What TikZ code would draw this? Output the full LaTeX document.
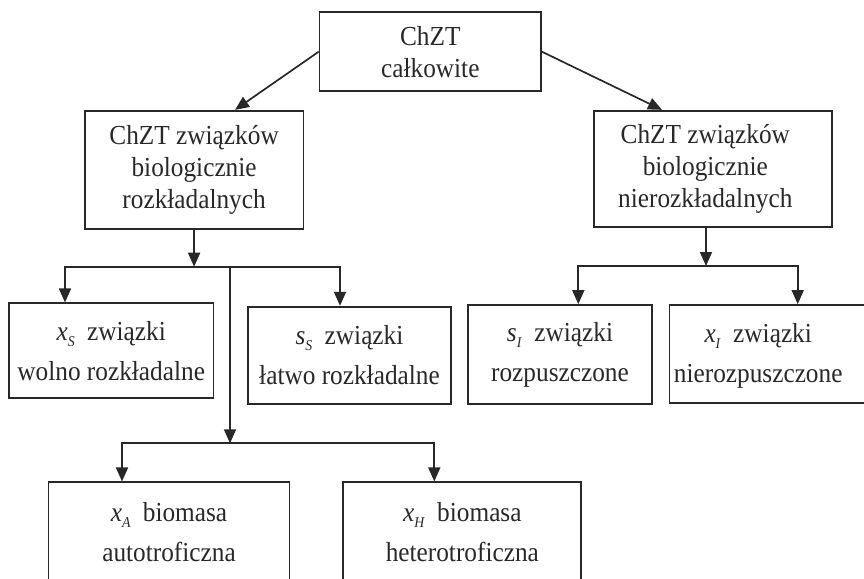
\documentclass[tikz,border=0pt]{standalone}
\usepackage{fontspec}
\setmainfont{Liberation Serif}[FakeStretch=0.92]
\usetikzlibrary{arrows.meta}
\definecolor{ink}{RGB}{40,40,40}
\newcommand\sym[2]{\textit{#1}\raisebox{-6pt}{\fontsize{15}{15}\selectfont\textit{#2}}}
\newcommand\gap{\hspace{0.45em}}
\begin{document}
\begin{tikzpicture}[x=1pt,y=-1pt,
  base/.style={draw=ink, line width=1.7pt, rectangle, inner sep=0pt, text=ink},
  box/.style={base, align=center, font=\fontsize{27.5}{32}\selectfont},
  tbox/.style={base, font=\fontsize{27.5}{32}\selectfont},
  lowbox/.style={base, align=center, font=\fontsize{27.5}{40}\selectfont},
  arr/.style={draw=ink, line width=1.7pt, line join=miter, -{Triangle[length=14pt,width=12pt]}},
  ln/.style={draw=ink, line width=1.7pt}]
\useasboundingbox (0,0) rectangle (864,578);
\clip (0,0) rectangle (864,578);
% boxes
\node[box, minimum width=221.5pt, minimum height=78.7pt] (top) at (430.3,51.7) {ChZT\\całkowite};
\node[box, minimum width=218.8pt, minimum height=118pt] (L) at (194.1,169.7) {ChZT związków\\biologicznie\\rozkładalnych};
\node[tbox, minimum width=237.7pt, minimum height=116.6pt] (R) at (712.8,169) {\begin{tabular}{@{}c@{}}ChZT związków\\biologicznie\\nierozkładalnych\end{tabular}\hspace*{15pt}};
\node[lowbox, minimum width=204.3pt, minimum height=95pt] (xS) at (111.2,350.8) {\sym{x}{S}\gap związki\\wolno rozkładalne};
\node[lowbox, minimum width=202.4pt, minimum height=97.3pt] (sS) at (349.5,355.3) {\sym{s}{S}\gap związki\\łatwo rozkładalne};
\node[lowbox, minimum width=183.4pt, minimum height=99pt] (sI) at (560,354.5) {\sym{s}{I}\gap związki\\rozpuszczone};
\node[tbox, font=\fontsize{27.5}{40}\selectfont, minimum width=220.7pt, minimum height=98pt] (xI) at (779.7,354) {\begin{tabular}{@{}c@{}}\sym{x}{I}\gap związki\\nierozpuszczone\end{tabular}\hspace*{43pt}};
\node[lowbox, minimum width=241pt, minimum height=100pt] (xA) at (169,532.3) {\sym{x}{A}\gap biomasa\\autotroficzna};
\node[lowbox, minimum width=238pt, minimum height=100pt] (xH) at (462.3,532.3) {\sym{x}{H}\gap biomasa\\heterotroficzna};
% top arrows
\coordinate (tl) at (235,0);
\coordinate (tr) at (662,0);
\draw[arr] (top.west) -- (tl |- L.north);
\draw[arr] (top.east) -- (tr |- R.north);
% left tree
\coordinate (hL) at (0,266.7);
\coordinate (a1) at (65,266.7);
\coordinate (a2) at (340,266.7);
\coordinate (a3) at (230,266.7);
\draw[arr] (L.south) -- (L.south |- hL);
\draw[arr] (a3) -- (a1) -- (a1 |- xS.north);
\draw[arr] (a3) -- (a2) -- (a2 |- sS.north);
\coordinate (b0) at (230,443.3);
\coordinate (b1) at (122,443.3);
\coordinate (b2) at (434.3,443.3);
\draw[arr] (a3) -- (b0);
\draw[arr] (b0) -- (b1) -- (b1 |- xA.north);
\draw[arr] (b0) -- (b2) -- (b2 |- xH.north);
% right tree
\coordinate (rA) at (706,0);
\coordinate (c0) at (706,266);
\coordinate (c1) at (578.3,266);
\coordinate (c2) at (797.7,266);
\draw[arr] (rA |- R.south) -- (c0);
\draw[arr] (c0) -- (c1) -- (c1 |- sI.north);
\draw[arr] (c0) -- (c2) -- (c2 |- xI.north);
\end{tikzpicture}
\end{document}
